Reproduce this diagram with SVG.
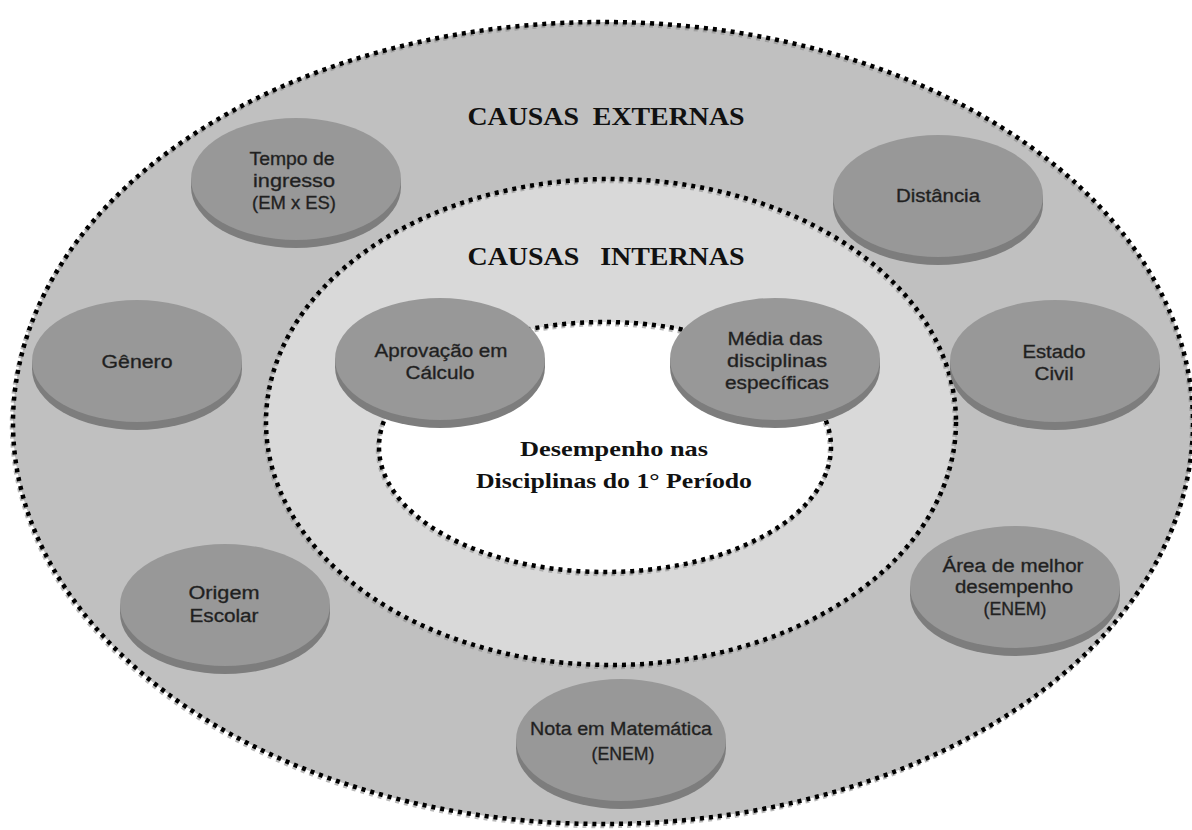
<svg xmlns="http://www.w3.org/2000/svg" xmlns:xlink="http://www.w3.org/1999/xlink" width="1192" height="830" viewBox="0 0 1192 830">
  <style>
    .ring { stroke: #000; stroke-width: 4.5; stroke-dasharray: 4 5; fill: none; }
    .ring-shadow { stroke: #8a8a8a; stroke-width: 4.5; stroke-dasharray: 4 5; fill: none; opacity: 0.6; }
    .lbl { font-family: "Liberation Sans", Arial, sans-serif; font-size: 18px; fill: #1e1e1e; stroke: #2a2a2a; stroke-width: 0.35; text-anchor: middle; }
    .ttl { font-family: "Liberation Serif", "Times New Roman", serif; font-weight: bold; fill: #111; text-anchor: middle; }
  </style>
  <defs>
    <!-- flat disc: dark rim underneath, grey face on top -->
    <g id="disc">
      <path d="M-105 0v8A105 61 0 0 0 105 8v-8Z" fill="#7d7d7d"/>
      <ellipse cx="0" cy="0" rx="105" ry="61" fill="#989898"/>
    </g>
  </defs>

  <rect width="1192" height="830" fill="#fff"/>

  <!-- concentric zones -->
  <g id="rings">
    <ellipse cx="603" cy="423" rx="590" ry="401" fill="#c0c0c0"/>
    <ellipse cx="611" cy="422" rx="345" ry="243" fill="#d9d9d9"/>
    <ellipse cx="605" cy="447" rx="226" ry="125" fill="#fff"/>
    <ellipse class="ring-shadow" cx="602" cy="425" rx="590" ry="401"/>
    <ellipse class="ring-shadow" cx="610" cy="424" rx="345" ry="243"/>
    <ellipse class="ring-shadow" cx="604" cy="449" rx="226" ry="125"/>
    <ellipse class="ring" cx="603" cy="423" rx="590" ry="401"/>
    <ellipse class="ring" cx="611" cy="422" rx="345" ry="243"/>
    <ellipse class="ring" cx="605" cy="447" rx="226" ry="125"/>
  </g>

  <g id="titles">
    <text class="ttl" x="606" y="125" font-size="26" textLength="277" lengthAdjust="spacingAndGlyphs" xml:space="preserve">CAUSAS  EXTERNAS</text>
    <text class="ttl" x="606" y="265" font-size="26" textLength="277" lengthAdjust="spacingAndGlyphs" xml:space="preserve">CAUSAS   INTERNAS</text>
  </g>

  <g id="center">
    <text class="ttl" x="614" y="456" font-size="22" textLength="188" lengthAdjust="spacingAndGlyphs">Desempenho nas</text>
    <text class="ttl" x="614" y="488" font-size="22" textLength="276" lengthAdjust="spacingAndGlyphs">Disciplinas do 1° Período</text>
  </g>

  <g id="n-tempo">
    <use xlink:href="#disc" x="296" y="179"/>
    <text class="lbl" x="292" y="165" textLength="85" lengthAdjust="spacingAndGlyphs">Tempo de</text>
    <text class="lbl" x="294" y="187" textLength="82" lengthAdjust="spacingAndGlyphs">ingresso</text>
    <text class="lbl" x="294" y="209" textLength="84" lengthAdjust="spacingAndGlyphs">(EM x ES)</text>
  </g>

  <g id="n-genero">
    <use xlink:href="#disc" x="137" y="361"/>
    <text class="lbl" x="137" y="368" textLength="71" lengthAdjust="spacingAndGlyphs">Gênero</text>
  </g>

  <g id="n-origem">
    <use xlink:href="#disc" x="225" y="605"/>
    <text class="lbl" x="224" y="599" textLength="71" lengthAdjust="spacingAndGlyphs">Origem</text>
    <text class="lbl" x="224" y="622" textLength="69" lengthAdjust="spacingAndGlyphs">Escolar</text>
  </g>

  <g id="n-nota">
    <use xlink:href="#disc" x="621" y="740"/>
    <text class="lbl" x="621" y="735" textLength="182" lengthAdjust="spacingAndGlyphs">Nota em Matemática</text>
    <text class="lbl" x="623" y="760" textLength="63" lengthAdjust="spacingAndGlyphs">(ENEM)</text>
  </g>

  <g id="n-area">
    <use xlink:href="#disc" x="1015" y="587"/>
    <text class="lbl" x="1013" y="572" textLength="141" lengthAdjust="spacingAndGlyphs">Área de melhor</text>
    <text class="lbl" x="1014" y="593" textLength="118" lengthAdjust="spacingAndGlyphs">desempenho</text>
    <text class="lbl" x="1015" y="615" textLength="63" lengthAdjust="spacingAndGlyphs">(ENEM)</text>
  </g>

  <g id="n-estado">
    <use xlink:href="#disc" x="1055" y="361"/>
    <text class="lbl" x="1054" y="358" textLength="63" lengthAdjust="spacingAndGlyphs">Estado</text>
    <text class="lbl" x="1054" y="380" textLength="39" lengthAdjust="spacingAndGlyphs">Civil</text>
  </g>

  <g id="n-distancia">
    <use xlink:href="#disc" x="938" y="196"/>
    <text class="lbl" x="938" y="202" textLength="84" lengthAdjust="spacingAndGlyphs">Distância</text>
  </g>

  <g id="n-aprovacao">
    <use xlink:href="#disc" x="440" y="359"/>
    <text class="lbl" x="441" y="357" textLength="133" lengthAdjust="spacingAndGlyphs">Aprovação em</text>
    <text class="lbl" x="440" y="379" textLength="69" lengthAdjust="spacingAndGlyphs">Cálculo</text>
  </g>

  <g id="n-media">
    <use xlink:href="#disc" x="775" y="359"/>
    <text class="lbl" x="775" y="345" textLength="95" lengthAdjust="spacingAndGlyphs">Média das</text>
    <text class="lbl" x="777" y="367" textLength="100" lengthAdjust="spacingAndGlyphs">disciplinas</text>
    <text class="lbl" x="777" y="389" textLength="104" lengthAdjust="spacingAndGlyphs">específicas</text>
  </g>
</svg>
